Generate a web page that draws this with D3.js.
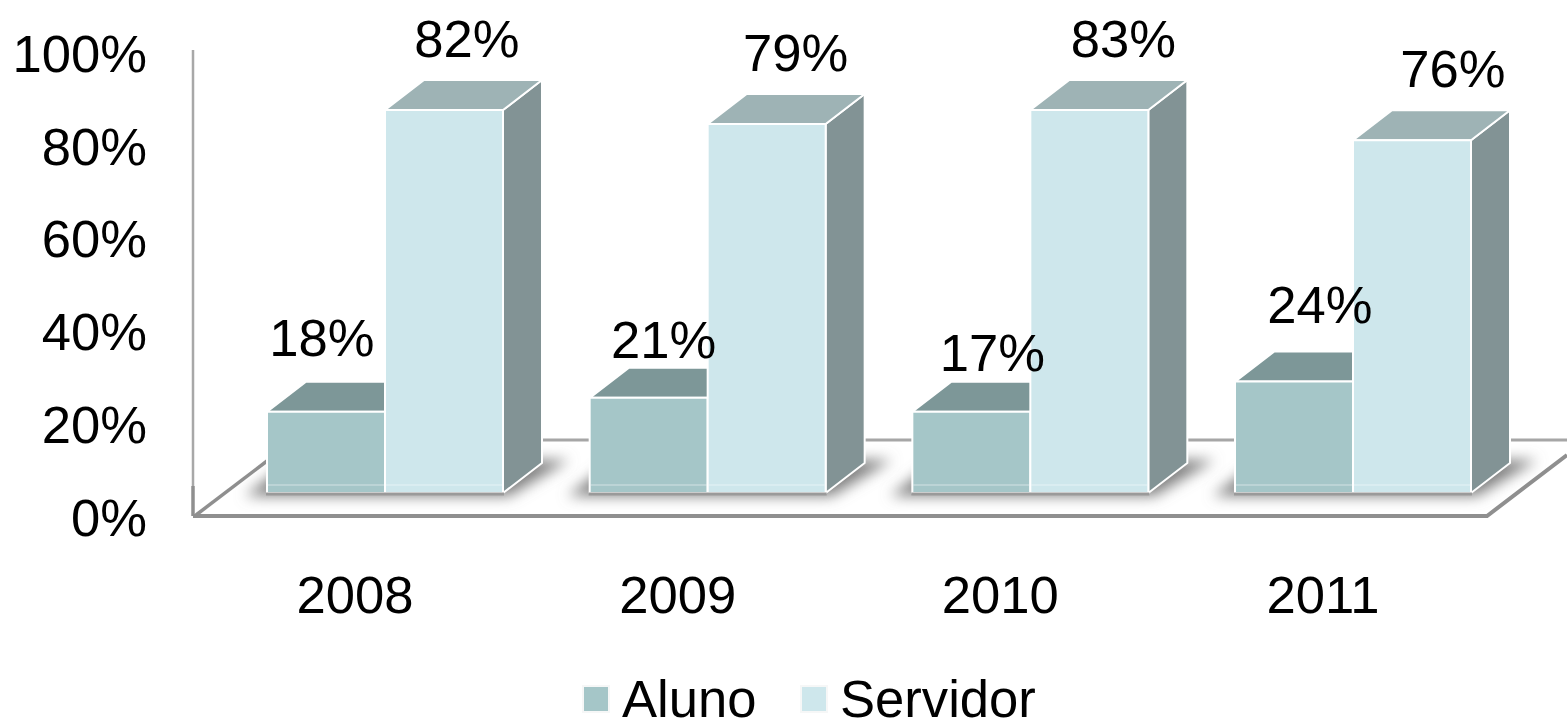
<!DOCTYPE html>
<html><head><meta charset="utf-8">
<script src="https://cdn.jsdelivr.net/npm/d3@7/dist/d3.min.js"></script>
<style>html,body{margin:0;padding:0;background:#fff;overflow:hidden}svg{display:block}text{font-family:"Liberation Sans",Arial,sans-serif;fill:#000}</style>
</head><body><svg id="c" width="1567" height="720"></svg>
<script>
const categories = ["2008","2009","2010","2011"];
const seriesNames = ["Aluno","Servidor"];
const aluno = [17.5,20.5,17.5,24];
const servidor = [82.5,79.5,82.5,76];
const alunoLabels = ["18%","21%","17%","24%"];
const servidorLabels = ["82%","79%","83%","76%"];
const yTicks = [0,20,40,60,80,100];

// layout
const svg = d3.select("#c");
const depthX = 39, depthY = 30, fs = 52.6;
const x = d3.scaleBand().domain(categories).range([223.67,1514.33]).paddingInner(0.2686).paddingOuter(0.1343);
const xs = d3.scaleBand().domain(seriesNames).range([0,x.bandwidth()]);
const y = d3.scaleLinear().domain([0,100]).range([493,28.8]);
const colors = {
  Aluno:{front:"#a5c6c8",top:"#7d9798",side:"#7d9394"},
  Servidor:{front:"#cee7ec",top:"#9eb3b5",side:"#829395"}
};
const nudges = {
  Aluno:[[-4,-74],[15,-58],[21,-59],[26,-77]],
  Servidor:[[23,-72],[29,-71],[34,-72],[41,-72]]
};
const poly = pts => pts.map(p=>p.join(",")).join(" ");

const defs = svg.append("defs");
defs.append("filter").attr("id","blur").attr("x","-20%").attr("y","-50%").attr("width","140%").attr("height","200%")
  .append("feGaussianBlur").attr("stdDeviation",7);

// floor and wall
const axisGray = "#8f8f8f";
const x0 = 193, floorFrontY = 516, floorRightX = 1487;
svg.append("line").attr("x1",x0).attr("x2",x0).attr("y1",50).attr("y2",486)
  .attr("stroke","#a8a8a8").attr("stroke-width",2.5);
svg.append("line").attr("x1",x0).attr("x2",x0).attr("y1",486).attr("y2",floorFrontY)
  .attr("stroke",axisGray).attr("stroke-width",3.5);
svg.append("polyline").attr("points",poly([[296,440],[1567,440]]))
  .attr("fill","none").attr("stroke","#a6a6a6").attr("stroke-width",3);
svg.append("polyline").attr("points",poly([[x0,floorFrontY],[floorRightX,floorFrontY],[1567,455]]))
  .attr("fill","none").attr("stroke",axisGray).attr("stroke-width",4);
svg.append("line").attr("x1",196).attr("y1",floorFrontY-1).attr("x2",267).attr("y2",461)
  .attr("stroke",axisGray).attr("stroke-width",3.5);

// bars
categories.forEach((c,i)=>{
  const left = x(c), right = left + x.bandwidth(), base = y(0);
  // shadow
  svg.append("polygon").attr("points",poly([[left-22,base+3],[right+6,base+3],[right+66,base-33],[left+25,base-33]]))
    .attr("fill","#808080").attr("filter","url(#blur)");
  [[ "Aluno",aluno ],[ "Servidor",servidor ]].forEach(([name,vals])=>{
    const bx = x(c)+xs(name), w = xs.bandwidth(), t = y(vals[i]), col = colors[name];
    const g = svg.append("g").attr("stroke","#fff").attr("stroke-width",2).attr("stroke-linejoin","round");
    g.append("polygon").attr("points",poly([[bx+w,t],[bx+w+depthX,t-depthY],[bx+w+depthX,base-depthY],[bx+w,base]])).attr("fill",col.side);
    g.append("polygon").attr("points",poly([[bx,t],[bx+depthX,t-depthY],[bx+w+depthX,t-depthY],[bx+w,t]])).attr("fill",col.top);
    g.append("rect").attr("x",bx).attr("y",t).attr("width",w).attr("height",base-t).attr("fill",col.front);
    svg.append("line").attr("x1",bx+1).attr("x2",bx+w-1).attr("y1",y(0)-8).attr("y2",y(0)-8)
      .attr("stroke","#fff").attr("stroke-opacity",0.35).attr("stroke-width",1.5);
  });
  svg.append("line").attr("x1",left-1).attr("x2",right+1).attr("y1",base+1).attr("y2",base+1)
    .attr("stroke","#9a9a9a").attr("stroke-width",3);
});

// data labels
[[ "Aluno",aluno,alunoLabels ],[ "Servidor",servidor,servidorLabels ]].forEach(([name,vals,labels])=>{
  svg.append("g").selectAll("text").data(categories).join("text")
    .attr("x",(c,i)=>x(c)+xs(name)+xs.bandwidth()/2+nudges[name][i][0])
    .attr("y",(c,i)=>y(vals[i])+nudges[name][i][1])
    .attr("text-anchor","middle").attr("dominant-baseline","central")
    .style("font-size",fs+"px").text((c,i)=>labels[i]);
});

// y axis labels
svg.append("g").selectAll("text").data(yTicks).join("text")
  .attr("x",147).attr("y",d=>y(d)+24.5).attr("text-anchor","end").attr("dominant-baseline","central")
  .style("font-size",fs+"px").text(d=>d+"%");

// category labels
svg.append("g").selectAll("text").data(categories).join("text")
  .attr("x",c=>x(c)+x.bandwidth()/2-30).attr("y",594).attr("text-anchor","middle").attr("dominant-baseline","central")
  .style("font-size",fs+"px").text(c=>c);

// legend
const legendX = d3.scaleOrdinal().domain(seriesNames).range([584,802]);
const lg = svg.append("g").selectAll("g").data(seriesNames).join("g").attr("transform",d=>`translate(${legendX(d)},687)`);
lg.append("rect").attr("x",-2).attr("y",-2).attr("width",28).attr("height",28).attr("fill","#f6f7f7");
lg.append("rect").attr("width",24).attr("height",24).attr("fill",d=>colors[d].front);
lg.append("text").attr("x",38).attr("y",30).style("font-size",fs+"px").text(d=>d);
</script></body></html>
